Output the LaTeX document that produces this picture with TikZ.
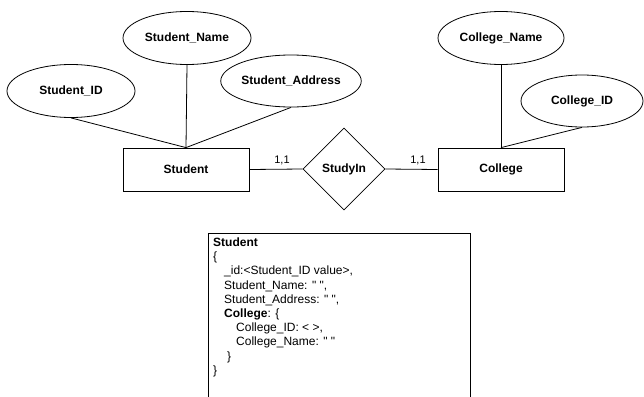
\documentclass[tikz,border=0pt]{standalone}
\usepackage{fontspec}
\setmainfont{Liberation Sans}[Ligatures=TeXOff]
\usetikzlibrary{shapes.geometric}
\newcommand{\dq}{\symbol{34}}
\begin{document}
\begin{tikzpicture}[x=1pt,y=-1pt,
  attr/.style={draw,ellipse,line width=0.8pt,minimum width=128pt,minimum height=53pt,inner sep=0pt,font=\fontsize{12}{14}\selectfont\bfseries},
  ent/.style={draw,rectangle,line width=0.8pt,minimum width=126pt,minimum height=43pt,inner sep=0pt,font=\fontsize{12}{14}\selectfont\bfseries},
  rel/.style={draw,diamond,line width=0.8pt,minimum width=82pt,minimum height=82pt,inner sep=0pt,font=\fontsize{12}{14}\selectfont\bfseries},
  conn/.style={line width=0.8pt},
  card/.style={font=\fontsize{11}{13}\selectfont,inner sep=0pt}]
\useasboundingbox (0,0) rectangle (644,396);
% attributes
\node[attr] (sid) at (71,91) {Student\_ID};
\node[attr] (sname) at (187,38) {Student\_Name};
\node[attr,minimum height=52pt] (saddr) at (291,81) {Student\_Address};
\node[attr,minimum width=126pt] (cname) at (501,38) {College\_Name};
\node[attr,minimum width=122pt,minimum height=52pt] (cid) at (582,101) {College\_ID};
% entities and relation
\node[ent] (student) at (186,169.5) {Student};
\node[ent] (college) at (501,169.5) {College};
\node[rel] (study) at (344,169) {StudyIn};
% connectors
\draw[conn] (sid.south) -- (student.north);
\draw[conn] (sname.south) -- (student.north);
\draw[conn] (saddr.south) -- (student.north);
\draw[conn] (cname.south) -- (college.north);
\draw[conn] (cid.south) -- (college.north);
\draw[conn] (student.east) -- (study.west);
\draw[conn] (study.east) -- (college.west);
\node[card] (c1) at (282,160) {1,1};
\node[card] (c2) at (418,160) {1,1};
% document box
\node[draw,rectangle,line width=0.8pt,anchor=north west,minimum width=262pt,minimum height=180pt,inner sep=0pt] (doc) at (208,233) {};
\node[anchor=north west,align=left,inner sep=0pt,font=\fontsize{12}{14.2}\selectfont] (doctext) at (213,237.5) {%
\textbf{Student}\\
\{\\
\hspace*{11pt}\_id:<Student\_ID value>,\\
\hspace*{11pt}Student\_Name: \dq\ \dq,\\
\hspace*{11pt}Student\_Address: \dq\ \dq,\\
\hspace*{11pt}\textbf{College}: \{\\
\hspace*{23pt}College\_ID: < >,\\
\hspace*{23pt}College\_Name: \dq\ \dq\\
\hspace*{14pt}\}\\
\}};
\end{tikzpicture}
\end{document}
